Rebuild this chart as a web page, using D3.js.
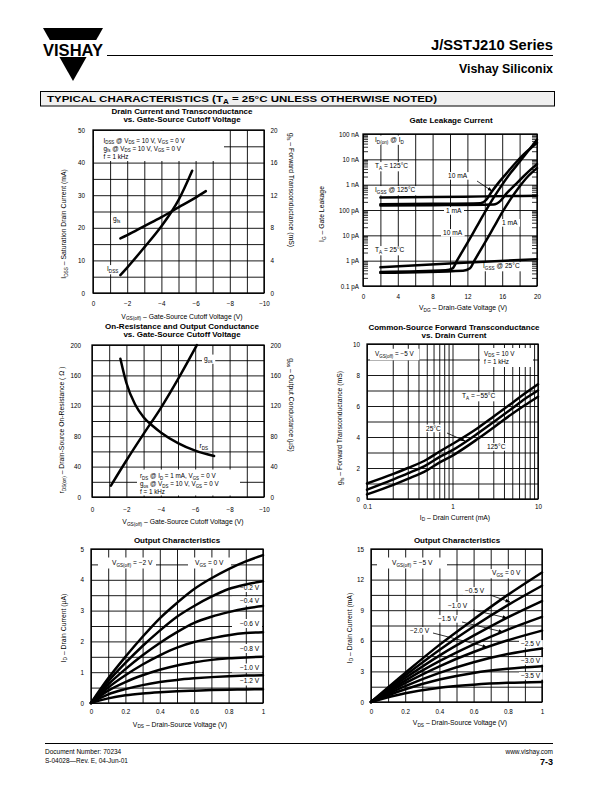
<!DOCTYPE html>
<html><head><meta charset="utf-8">
<script src="https://cdn.jsdelivr.net/npm/d3@7"></script>
<style>html,body{margin:0;padding:0;background:#fff}svg{display:block}</style>
</head><body>
<script>
// ================= DATA =================
// Chart 1: Drain Current and Transconductance vs VGS(off)
const c1IdssV = [-1.6, -2, -3, -4, -4.6, -5, -5.8];
const c1Idss  = [5.5, 7.8, 14, 20.5, 25, 28.5, 37.5];          // mA
const c1GfsV  = [-1.6, -2, -3, -4, -5, -6, -6.6];
const c1Gfs   = [6.7, 7.1, 8.2, 9.3, 10.5, 11.7, 12.5];       // mS
const c1XTicks = [0, -2, -4, -6, -8, -10];
const c1YTicks = [0, 10, 20, 30, 40, 50];
const c1Y2Ticks = [0, 4, 8, 12, 16, 20];

// Chart 2: Gate Leakage Current (values in pA)
const c2XTicks = [0, 4, 8, 12, 16, 20];
const c2YTicks = [0.1, 1, 10, 100, 1000, 10000, 100000];
const c2YLabels = ["0.1 pA", "1 pA", "10 pA", "100 pA", "1 nA", "10 nA", "100 nA"];
const c2Igss125V = [2, 8, 14, 20];
const c2Igss125  = [310, 325, 345, 365];
const c2Id10m125V = [2, 8, 13.5, 14.2, 14.75, 15.5, 16.5, 17.5, 18.5, 19.3, 20];
const c2Id10m125  = [170, 175, 185, 260, 500, 1100, 2800, 7000, 16000, 28000, 45000];
const c2Id1m125V = [2, 8, 15, 15.8, 16.5, 17.5, 18.5, 19.3, 20];
const c2Id1m125  = [150, 155, 165, 230, 450, 1000, 2200, 4000, 6500];
const c2Igss25V = [2, 11, 20];
const c2Igss25  = [0.55, 0.8, 1.15];
const c2Id10m25V = [2, 9.5, 10.3, 10.8, 12, 13, 14, 15, 16, 17, 18, 19, 20];
const c2Id10m25  = [0.36, 0.42, 0.5, 1.0, 5, 20, 80, 300, 1000, 3000, 8000, 22000, 60000];
const c2Id1m25V = [2, 11.5, 12.3, 12.8, 14, 15, 16, 17, 18, 19, 20];
const c2Id1m25  = [0.33, 0.4, 0.5, 1.0, 5, 20, 80, 280, 850, 2200, 4500];

// Chart 3: On-Resistance and Output Conductance vs VGS(off)
const c3RdsV = [-1.65, -2, -2.5, -3, -3.5, -4, -5, -6, -7.1];
const c3Rds  = [182, 150, 122, 105, 94, 85, 71, 61, 54];      // ohm
const c3GosV = [-1.1, -2, -3, -4, -5, -6.1];
const c3Gos  = [15, 48, 83, 117, 155, 200];                   // uS
const c3XTicks = [0, -2, -4, -6, -8, -10];
const c3YTicks = [0, 40, 80, 120, 160, 200];

// Chart 4: Common-Source Forward Transconductance vs Drain Current
const c4Id = [0.1, 0.2, 0.3, 0.5, 0.7, 1, 2, 3, 5, 7, 10];    // mA
const c4GfsM55 = [1.0, 1.6, 2.0, 2.55, 3.05, 3.55, 4.6, 5.3, 6.2, 6.8, 7.4];
const c4Gfs25  = [0.6, 1.25, 1.65, 2.2, 2.7, 3.15, 4.25, 4.95, 5.85, 6.45, 7.0];
const c4Gfs125 = [0.3, 0.9, 1.3, 1.85, 2.35, 2.8, 3.9, 4.6, 5.5, 6.05, 6.6];
const c4XTicks = [0.1, 1, 10];
const c4YTicks = [0, 2, 4, 6, 8, 10];

// Chart 5: Output Characteristics, VGS(off) = -2 V (uA)
const c5Vds = [0, 0.1, 0.2, 0.3, 0.4, 0.5, 0.6, 0.7, 0.8, 0.9, 1.0];
const c5Vgs = ["0", "-0.2", "-0.4", "-0.6", "-0.8", "-1.0", "-1.2"];
const c5Id = [
  [0, 0.8, 1.5, 2.15, 2.75, 3.25, 3.7, 4.05, 4.35, 4.6, 4.8],
  [0, 0.7, 1.3, 1.85, 2.35, 2.8, 3.15, 3.45, 3.7, 3.85, 3.95],
  [0, 0.6, 1.1, 1.55, 1.95, 2.3, 2.6, 2.8, 2.95, 3.07, 3.15],
  [0, 0.5, 0.9, 1.25, 1.55, 1.8, 1.98, 2.1, 2.2, 2.27, 2.3],
  [0, 0.4, 0.68, 0.9, 1.08, 1.22, 1.32, 1.4, 1.45, 1.48, 1.5],
  [0, 0.28, 0.45, 0.58, 0.68, 0.75, 0.8, 0.84, 0.87, 0.89, 0.9],
  [0, 0.15, 0.25, 0.31, 0.35, 0.38, 0.4, 0.42, 0.43, 0.44, 0.45]
];
const c5XTicks = [0, 0.2, 0.4, 0.6, 0.8, 1];
const c5YTicks = [0, 1, 2, 3, 4, 5];

// Chart 6: Output Characteristics, VGS(off) = -5 V (mA)
const c6Vds = [0, 0.2, 0.4, 0.6, 0.8, 1.0];
const c6Vgs = ["0", "-0.5", "-1.0", "-1.5", "-2.0", "-2.5", "-3.0", "-3.5"];
const c6Id = [
  [0, 2.85, 5.6, 8.1, 10.5, 12.7],
  [0, 2.6, 5.1, 7.4, 9.5, 11.4],
  [0, 2.35, 4.55, 6.5, 8.3, 9.9],
  [0, 2.1, 4.0, 5.65, 7.1, 8.35],
  [0, 1.85, 3.5, 4.9, 6.05, 7.0],
  [0, 1.55, 2.85, 3.9, 4.7, 5.25],
  [0, 1.25, 2.2, 2.85, 3.25, 3.5],
  [0, 0.85, 1.4, 1.7, 1.88, 1.97]
];
const c6XTicks = [0, 0.2, 0.4, 0.6, 0.8, 1];
const c6YTicks = [0, 3, 6, 9, 12, 15];

// ================= DRAWING =================
const FONT = "'Liberation Sans', Arial, Helvetica, sans-serif";
const TICK = 6.3, ANN = 6.6, LEG = 6.3, AXL = 6.8, TTL = 8;
const svg = d3.select("body").append("svg").attr("width", 612).attr("height", 792)
  .attr("font-family", FONT);
svg.append("rect").attr("width", 612).attr("height", 792).attr("fill", "#fff");
const defs = svg.append("defs");
defs.append("marker").attr("id", "arr").attr("viewBox", "0 0 10 10").attr("refX", 9).attr("refY", 5)
  .attr("markerWidth", 5).attr("markerHeight", 5).attr("orient", "auto").attr("markerUnits", "userSpaceOnUse")
  .append("path").attr("d", "M0,1.5 L10,5 L0,8.5 Z").attr("fill", "#000");

const neg = v => v < 0 ? "\u2212" + (-v) : String(v);
const mstr = s => s.replace("-", "\u2212");

function rtext(parent, x, y, str, o = {}) {
  const fs = o.size || ANN;
  const t = parent.append("text").attr("x", x).attr("y", y).attr("font-size", fs)
    .attr("text-anchor", o.anchor || "start").attr("fill", o.fill || "#000");
  if (o.weight) t.attr("font-weight", o.weight);
  if (o.transform) t.attr("transform", o.transform);
  if (o.len) t.attr("textLength", o.len).attr("lengthAdjust", "spacingAndGlyphs");
  const sh = fs * 0.25;
  let shifted = false;
  str.split(/(_\{[^}]*\})/).forEach(p => {
    if (!p) return;
    const m = p.match(/^_\{([^}]*)\}$/);
    if (m) {
      t.append("tspan").attr("dy", shifted ? 0 : sh).attr("font-size", fs * 0.7).text(m[1]);
      shifted = true;
    } else {
      const ts = t.append("tspan").text(p);
      if (shifted) { ts.attr("dy", -sh); shifted = false; }
    }
  });
  return t;
}

function panel(o) {
  const g = svg.append("g");
  const P = { g, grid: g.append("g"), box: g.append("g"), curve: g.append("g"), text: g.append("g"), x: o.x, y: o.y };
  const xr = o.x.range(), yr = o.y.range();
  const xl = Math.min(...xr), xh = Math.max(...xr), yt = Math.min(...yr), yb = Math.max(...yr);
  Object.assign(P, { xl, xh, yt, yb });
  P.grid.append("rect").attr("x", xl).attr("y", yt).attr("width", xh - xl).attr("height", yb - yt).attr("fill", "#fff");
  const gx = P.grid.append("g").attr("transform", `translate(0,${yb})`)
    .call(d3.axisBottom(o.x).tickValues(o.xGrid).tickSize(-(yb - yt)).tickFormat(""));
  gx.select(".domain").remove();
  gx.selectAll("line").attr("stroke", "#000").attr("stroke-width", 0.9);
  const gy = P.grid.append("g").attr("transform", `translate(${xl},0)`)
    .call(d3.axisLeft(o.y).tickValues(o.yGrid).tickSize(-(xh - xl)).tickFormat(""));
  gy.select(".domain").remove();
  gy.selectAll("line").attr("stroke", "#000").attr("stroke-width", 0.9);
  P.grid.append("rect").attr("x", xl).attr("y", yt).attr("width", xh - xl).attr("height", yb - yt)
    .attr("fill", "none").attr("stroke", "#000").attr("stroke-width", 1.3);
  const ax = P.text.append("g").attr("transform", `translate(0,${yb})`)
    .call(d3.axisBottom(o.x).tickValues(o.xTicks).tickSize(0).tickPadding(o.xPad).tickFormat(o.xFmt || neg));
  ax.select(".domain").remove();
  ax.attr("font-size", TICK).attr("font-family", FONT).selectAll("text").attr("fill", "#000");
  const ay = P.text.append("g").attr("transform", `translate(${xl},0)`)
    .call(d3.axisLeft(o.y).tickValues(o.yTicks).tickSize(0).tickPadding(o.yPad).tickFormat(o.yFmt || neg));
  ay.select(".domain").remove();
  ay.attr("font-size", TICK).attr("font-family", FONT).selectAll("text").attr("fill", "#000");
  if (o.y2) {
    const ay2 = P.text.append("g").attr("transform", `translate(${xh},0)`)
      .call(d3.axisRight(o.y2).tickValues(o.y2Ticks).tickSize(0).tickPadding(o.y2Pad).tickFormat(neg));
    ay2.select(".domain").remove();
    ay2.attr("font-size", TICK).attr("font-family", FONT).selectAll("text").attr("fill", "#000");
  }
  o.title.forEach((s, i) => rtext(P.text, o.titleX, o.titleY + i * 8, s, { size: TTL, anchor: "middle", weight: "bold" }));
  rtext(P.text, o.xLabX, o.xLabY, o.xLab, { size: AXL, anchor: "middle" });
  rtext(P.text, 0, 0, o.yLab, { size: AXL, anchor: "middle", transform: `translate(${o.yLabX},${o.yLabY}) rotate(-90)` });
  if (o.y2Lab) rtext(P.text, 0, 0, o.y2Lab, { size: AXL, anchor: "middle", transform: `translate(${o.y2LabX},${o.y2LabY}) rotate(90)` });
  return P;
}

function curve(P, xs, ys, yScale) {
  const ysc = yScale || P.y;
  const pts = xs.map((v, i) => [v, ys[i]]);
  P.curve.append("path").datum(pts)
    .attr("d", d3.line().x(d => P.x(d[0])).y(d => ysc(d[1])).curve(d3.curveMonotoneX))
    .attr("fill", "none").attr("stroke", "#000").attr("stroke-width", 2.5).attr("stroke-linecap", "round");
}

function label(P, x, cy, str, o = {}) {
  const fs = o.size || ANN;
  const t = rtext(P.text, x, cy + fs * 0.36, str, { size: fs, anchor: o.anchor });
  if (o.bg !== false) {
    const b = t.node().getBBox();
    const px = o.padx ?? 2, py = o.pady ?? 0.3;
    P.box.append("rect").attr("x", b.x - px).attr("y", b.y - py).attr("width", b.width + 2 * px)
      .attr("height", b.height + 2 * py).attr("fill", "#fff");
  }
  return t;
}
function box(P, x0, y0, x1, y1) {
  P.box.append("rect").attr("x", x0).attr("y", y0).attr("width", x1 - x0).attr("height", y1 - y0).attr("fill", "#fff");
}
function arrow(P, x0, y0, x1, y1) {
  P.text.append("line").attr("x1", x0).attr("y1", y0).attr("x2", x1).attr("y2", y1)
    .attr("stroke", "#000").attr("stroke-width", 0.8).attr("marker-end", "url(#arr)");
}
const rng = (a, b, s) => d3.range(a, b + s / 2, s);

// ---------- Header ----------
svg.append("polygon").attr("points", "43,28 103,28 73,81").attr("fill", "#000");
svg.append("rect").attr("x", 38).attr("y", 40).attr("width", 70).attr("height", 17).attr("fill", "#fff");
rtext(svg, 43, 55.5, "VISHAY", { size: 16, weight: "bold", len: 60 });
svg.append("line").attr("x1", 107).attr("x2", 553).attr("y1", 55.5).attr("y2", 55.5).attr("stroke", "#000").attr("stroke-width", 1);
rtext(svg, 553, 50, "J/SSTJ210 Series", { size: 15, weight: "bold", anchor: "end", len: 122 });
rtext(svg, 553, 72.5, "Vishay Siliconix", { size: 12.5, weight: "bold", anchor: "end", len: 94 });
svg.append("rect").attr("x", 40.5).attr("y", 91.5).attr("width", 514).attr("height", 14.5)
  .attr("fill", "#f0f0f0").attr("stroke", "#000").attr("stroke-width", 1);
rtext(svg, 47, 102, "TYPICAL CHARACTERISTICS (T_{A} = 25\u00B0C UNLESS OTHERWISE NOTED)", { size: 9.5, weight: "bold", len: 390 });

// ---------- Chart 1 ----------
{
  const x = d3.scaleLinear([0, -10], [93, 264]);
  const y = d3.scaleLinear([0, 50], [293, 130]);
  const y2 = d3.scaleLinear([0, 20], [293, 130]);
  const P = panel({
    x, y, y2, xGrid: rng(-10, 0, 1), yGrid: rng(0, 50, 5), xTicks: c1XTicks, yTicks: c1YTicks, y2Ticks: c1Y2Ticks,
    xPad: 9, yPad: 8, y2Pad: 6.5,
    title: ["Drain Current and Transconductance", "vs. Gate-Source Cutoff Voltage"], titleX: 182, titleY: 114,
    xLab: "V_{GS(off)} \u2013 Gate-Source Cutoff Voltage (V)", xLabX: 182, xLabY: 318.5,
    yLab: "I_{DSS} \u2013 Saturation Drain Current (mA)", yLabX: 66, yLabY: 224,
    y2Lab: "g_{fs} \u2013 Forward Transconductance (mS)", y2LabX: 289, y2LabY: 190
  });
  box(P, 94, 131, 224, 161);
  label(P, 103.5, 140.5, "I_{DSS} @ V_{DS} = 10 V, V_{GS} = 0 V", { bg: false, size: LEG });
  label(P, 103.5, 148.5, "g_{fs} @ V_{DS} = 10 V, V_{GS} = 0 V", { bg: false, size: LEG });
  label(P, 103.5, 156.5, "f = 1 kHz", { bg: false, size: LEG });
  curve(P, c1IdssV, c1Idss);
  curve(P, c1GfsV, c1Gfs, y2);
  label(P, 113, 219, "g_{fs}");
  label(P, 107, 269, "I_{DSS}");
}

// ---------- Chart 2 ----------
{
  const x = d3.scaleLinear([0, 20], [363, 537]);
  const y = d3.scaleLog([0.1, 100000], [286, 134]);
  const P = panel({
    x, y, xGrid: rng(0, 20, 2), yGrid: c2YTicks, xTicks: c2XTicks, yTicks: c2YTicks,
    xPad: 9, yPad: 4, yFmt: d => c2YLabels[c2YTicks.indexOf(d)],
    title: ["Gate Leakage Current"], titleX: 451, titleY: 123,
    xLab: "V_{DG} \u2013 Drain-Gate Voltage (V)", xLabX: 463, xLabY: 310,
    yLab: "I_{G} \u2013 Gate Leakage", yLabX: 324, yLabY: 214
  });
  c2YTicks.slice(0, -1).forEach(d => {
    for (let k = 2; k <= 9; k++) {
      const yy = y(d * k);
      P.grid.append("line").attr("x1", P.xl).attr("x2", P.xl + 5).attr("y1", yy).attr("y2", yy).attr("stroke", "#000").attr("stroke-width", 0.8);
      P.grid.append("line").attr("x1", P.xh - 5).attr("x2", P.xh).attr("y1", yy).attr("y2", yy).attr("stroke", "#000").attr("stroke-width", 0.8);
    }
  });
  curve(P, c2Igss125V, c2Igss125);
  curve(P, c2Id10m125V, c2Id10m125);
  curve(P, c2Id1m125V, c2Id1m125);
  curve(P, c2Igss25V, c2Igss25);
  curve(P, c2Id10m25V, c2Id10m25);
  curve(P, c2Id1m25V, c2Id1m25);
  label(P, 375, 139.5, "I_{D(on)} @ I_{D}");
  label(P, 375, 166, "T_{A} = 125\u00B0C");
  label(P, 375, 190, "I_{GSS} @ 125\u00B0C");
  label(P, 448, 176, "10 mA");
  arrow(P, 477, 181, 492, 191);
  label(P, 446, 211, "1 mA");
  label(P, 443, 233, "10 mA");
  label(P, 502, 223, "1 mA");
  label(P, 375, 250, "T_{A} = 25\u00B0C");
  label(P, 483, 266, "I_{GSS} @ 25\u00B0C");
}

// ---------- Chart 3 ----------
{
  const x = d3.scaleLinear([0, -10], [92, 264]);
  const y = d3.scaleLinear([0, 200], [497, 345]);
  const P = panel({
    x, y, y2: y, xGrid: rng(-10, 0, 1), yGrid: rng(0, 200, 20), xTicks: c3XTicks, yTicks: c3YTicks, y2Ticks: c3YTicks,
    xPad: 10.5, yPad: 11, y2Pad: 6.5,
    title: ["On-Resistance and Output Conductance", "vs. Gate-Source Cutoff Voltage"], titleX: 182, titleY: 329,
    xLab: "V_{GS(off)} \u2013 Gate-Source Cutoff Voltage (V)", xLabX: 183, xLabY: 524,
    yLab: "r_{DS(on)} \u2013 Drain-Source On-Resistance ( \u03A9 )", yLabX: 64, yLabY: 430,
    y2Lab: "g_{os} \u2013 Output Conductance (\u00B5S)", y2LabX: 289, y2LabY: 405
  });
  box(P, 137, 469.5, 240, 495.5);
  label(P, 140, 476, "r_{DS} @ I_{D} = 1 mA, V_{GS} = 0 V", { bg: false, size: LEG });
  label(P, 140, 484, "g_{os} @ V_{DS} = 10 V, V_{GS} = 0 V", { bg: false, size: LEG });
  label(P, 140, 492, "f = 1  kHz", { bg: false, size: LEG });
  curve(P, c3RdsV, c3Rds);
  curve(P, c3GosV, c3Gos);
  label(P, 204, 358.5, "g_{os}");
  label(P, 199.5, 446, "r_{DS}");
}

// ---------- Chart 4 ----------
{
  const x = d3.scaleLog([0.1, 10], [367, 538]);
  const y = d3.scaleLinear([0, 10], [499, 344]);
  const xg = [];
  [0.1, 1].forEach(d => { for (let k = 1; k <= 9; k++) xg.push(d * k); });
  xg.push(10);
  const P = panel({
    x, y, xGrid: xg, yGrid: rng(0, 10, 1), xTicks: c4XTicks, yTicks: c4YTicks,
    xPad: 6, yPad: 7, xFmt: d => String(d),
    title: ["Common-Source Forward Transconductance", "vs. Drain Current"], titleX: 454, titleY: 329.5,
    xLab: "I_{D} \u2013 Drain Current (mA)", xLabX: 455, xLabY: 519.5,
    yLab: "g_{fs} \u2013 Forward Transconductance (mS)", yLabX: 342, yLabY: 428
  });
  label(P, 375, 354, "V_{GS(off)} = \u22125 V", { padx: 5, pady: 1.5, size: LEG });
  box(P, 480, 348, 533, 367);
  label(P, 484, 353.5, "V_{DS} = 10 V", { bg: false, size: LEG });
  label(P, 484, 361.5, "f = 1 kHz", { bg: false, size: LEG });
  curve(P, c4Id, c4GfsM55);
  curve(P, c4Id, c4Gfs25);
  curve(P, c4Id, c4Gfs125);
  label(P, 462, 396, "T_{A} = \u221255\u00B0C");
  label(P, 426, 428.5, "25\u00B0C");
  arrow(P, 447, 433, 465, 441);
  label(P, 487, 447, "125\u00B0C");
}

// ---------- Chart 5 ----------
{
  const x = d3.scaleLinear([0, 1], [91, 263]);
  const y = d3.scaleLinear([0, 5], [703, 549]);
  const P = panel({
    x, y, xGrid: rng(0, 1, 0.1), yGrid: rng(0, 5, 0.5), xTicks: c5XTicks, yTicks: c5YTicks,
    xPad: 6.5, yPad: 7, xFmt: d => String(d),
    title: ["Output Characteristics"], titleX: 177, titleY: 543,
    xLab: "V_{DS} \u2013 Drain-Source Voltage (V)", xLabX: 180, xLabY: 726.5,
    yLab: "I_{D} \u2013 Drain Current (\u00B5A)", yLabX: 65.5, yLabY: 628
  });
  box(P, 98, 557.5, 156, 568.5);
  box(P, 188, 557.5, 231, 568.5);
  label(P, 112, 563, "V_{GS(off)} = \u22122 V", { bg: false });
  label(P, 195, 563, "V_{GS} = 0 V", { bg: false });
  c5Id.forEach(s => curve(P, c5Vds, s));
  const ly = [587.5, 601, 623.5, 648.5, 668, 681];
  c5Vgs.slice(1).forEach((v, i) => {
    box(P, 232, ly[i] - 4.5, 262, ly[i] + 4.5);
    label(P, 240, ly[i], mstr(v) + " V", { bg: false });
  });
}

// ---------- Chart 6 ----------
{
  const x = d3.scaleLinear([0, 1], [371, 542]);
  const y = d3.scaleLinear([0, 15], [702, 549]);
  const P = panel({
    x, y, xGrid: rng(0, 1, 0.1), yGrid: rng(0, 15, 1.5), xTicks: c6XTicks, yTicks: c6YTicks,
    xPad: 7.5, yPad: 7, xFmt: d => String(d),
    title: ["Output Characteristics"], titleX: 457, titleY: 543,
    xLab: "V_{DS} \u2013 Drain-Source Voltage (V)", xLabX: 460, xLabY: 725,
    yLab: "I_{D} \u2013 Drain Current (mA)", yLabX: 351.5, yLabY: 628
  });
  box(P, 377, 557.5, 447, 568.5);
  label(P, 392, 563, "V_{GS(off)} = \u22125 V", { bg: false });
  c6Id.forEach(s => curve(P, c6Vds, s));
  label(P, 492, 573, "V_{GS} = 0 V");
  const al = [[465, 591, 490, 595, 510, 602], [448, 606, 473, 610, 507, 618], [438, 619, 462, 622, 503, 632], [410, 631, 433, 633, 487, 647]];
  c6Vgs.slice(1, 5).forEach((v, i) => {
    const a = al[i];
    label(P, a[0], a[1], mstr(v) + " V");
    arrow(P, a[2], a[3], a[4], a[5]);
  });
  const ry = [644, 661, 676];
  c6Vgs.slice(5).forEach((v, i) => label(P, 521, ry[i], mstr(v) + " V"));
}

// ---------- Footer ----------
svg.append("line").attr("x1", 45).attr("x2", 553).attr("y1", 743.5).attr("y2", 743.5).attr("stroke", "#000").attr("stroke-width", 1);
rtext(svg, 45, 754, "Document Number:  70234", { size: 6.5 });
rtext(svg, 45, 763, "S-04028\u2014Rev. E, 04-Jun-01", { size: 6.5 });
rtext(svg, 553, 754, "www.vishay.com", { size: 6.5, anchor: "end" });
rtext(svg, 553, 765, "7-3", { size: 9, anchor: "end", weight: "bold" });
</script>
</body></html>
